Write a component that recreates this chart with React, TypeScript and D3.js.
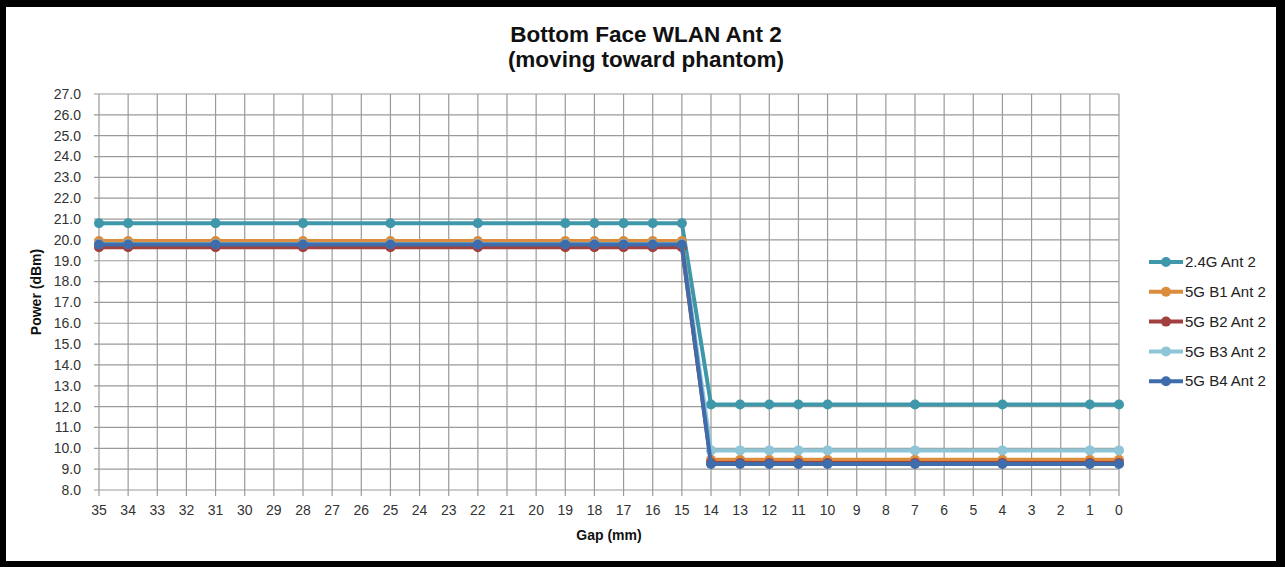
import React from "react";
import * as d3 from "d3";

const gapTicks = d3.range(35, -1, -1);
const gaps = [35, 34, 31, 28, 25, 22, 19, 18, 17, 16, 15, 14, 13, 12, 11, 10, 7, 4, 1, 0];
const yTicks = d3.range(8, 27.5, 1);

const ant24 = [20.8, 20.8, 20.8, 20.8, 20.8, 20.8, 20.8, 20.8, 20.8, 20.8, 20.8, 12.1, 12.1, 12.1, 12.1, 12.1, 12.1, 12.1, 12.1, 12.1];
const b1 = [19.95, 19.95, 19.95, 19.95, 19.95, 19.95, 19.95, 19.95, 19.95, 19.95, 19.95, 9.45, 9.45, 9.45, 9.45, 9.45, 9.45, 9.45, 9.45, 9.45];
const b2 = [19.65, 19.65, 19.65, 19.65, 19.65, 19.65, 19.65, 19.65, 19.65, 19.65, 19.65, 9.3, 9.3, 9.3, 9.3, 9.3, 9.3, 9.3, 9.3, 9.3];
const b3 = [19.8, 19.8, 19.8, 19.8, 19.8, 19.8, 19.8, 19.8, 19.8, 19.8, 19.8, 9.9, 9.9, 9.9, 9.9, 9.9, 9.9, 9.9, 9.9, 9.9];
const b4 = [19.78, 19.78, 19.78, 19.78, 19.78, 19.78, 19.78, 19.78, 19.78, 19.78, 19.78, 9.25, 9.25, 9.25, 9.25, 9.25, 9.25, 9.25, 9.25, 9.25];

const seriesNames = ["2.4G Ant 2", "5G B1 Ant 2", "5G B2 Ant 2", "5G B3 Ant 2", "5G B4 Ant 2"];
const seriesValues = [ant24, b1, b2, b3, b4];
const seriesColors = ["#3f97aa", "#db8d3d", "#a2403f", "#8ec6d8", "#3f6cab"];

const App = () => {
  const ref = React.useRef<SVGSVGElement>(null);

  React.useEffect(() => {
    const svg = d3.select(ref.current);
    svg.selectAll("*").remove();

    const W = 1285, H = 567;
    const margin = { top: 94, left: 99, right: 166, bottom: 77 };
    const width = W - margin.left - margin.right;
    const height = H - margin.top - margin.bottom;

    svg.append("rect").attr("x", 0).attr("y", 0).attr("width", W).attr("height", H).attr("fill", "#000");
    svg.append("rect").attr("x", 6).attr("y", 7).attr("width", 1270).attr("height", 554).attr("fill", "#fff");

    const x = d3.scalePoint<number>().domain(gapTicks).range([0, width]);
    const y = d3.scaleLinear().domain([8, 27]).range([height, 0]);

    const g = svg.append("g").attr("transform", `translate(${margin.left},${margin.top})`);

    // grid
    g.selectAll(".hgrid").data(yTicks).enter().append("line")
      .attr("x1", -5).attr("x2", width)
      .attr("y1", d => y(d)).attr("y2", d => y(d))
      .attr("stroke", "#9a9a9a").attr("stroke-width", 1.2);
    g.selectAll(".vgrid").data(gapTicks).enter().append("line")
      .attr("x1", d => x(d)!).attr("x2", d => x(d)!)
      .attr("y1", 0).attr("y2", height + 6)
      .attr("stroke", "#9a9a9a").attr("stroke-width", 1.2);

    const font = "'Liberation Sans', Arial, sans-serif";

    g.selectAll(".ylab").data(yTicks).enter().append("text")
      .attr("x", -18).attr("y", d => y(d)).attr("dy", "0.35em")
      .attr("text-anchor", "end").attr("font-family", font).attr("font-size", 14)
      .attr("fill", "#333").text(d => d.toFixed(1));
    g.selectAll(".xlab").data(gapTicks).enter().append("text")
      .attr("x", d => x(d)!).attr("y", height + 25)
      .attr("text-anchor", "middle").attr("font-family", font).attr("font-size", 14)
      .attr("fill", "#333").text(d => d);

    const line = d3.line<number>().x((_, i) => x(gaps[i])!).y(d => y(d));

    seriesValues.forEach((vals, si) => {
      g.append("path").datum(vals).attr("d", line)
        .attr("fill", "none").attr("stroke", seriesColors[si]).attr("stroke-width", 4);
      g.selectAll(`.pt${si}`).data(vals).enter().append("circle")
        .attr("cx", (_, i) => x(gaps[i])!).attr("cy", d => y(d))
        .attr("r", 5).attr("fill", seriesColors[si]);
    });

    // titles
    svg.append("text").attr("x", 646).attr("y", 42).attr("text-anchor", "middle")
      .attr("font-family", font).attr("font-weight", "bold").attr("font-size", 22.5)
      .attr("fill", "#111").text("Bottom Face WLAN Ant 2");
    svg.append("text").attr("x", 646).attr("y", 67).attr("text-anchor", "middle")
      .attr("font-family", font).attr("font-weight", "bold").attr("font-size", 22.5)
      .attr("fill", "#111").text("(moving toward phantom)");

    svg.append("text").attr("transform", `translate(41,${margin.top + height / 2}) rotate(-90)`)
      .attr("text-anchor", "middle").attr("font-family", font).attr("font-weight", "bold")
      .attr("font-size", 14).attr("fill", "#111").text("Power (dBm)");
    svg.append("text").attr("x", margin.left + width / 2).attr("y", 540)
      .attr("text-anchor", "middle").attr("font-family", font).attr("font-weight", "bold")
      .attr("font-size", 14).attr("fill", "#111").text("Gap (mm)");

    // legend
    const lg = svg.append("g").attr("transform", "translate(1149,262)");
    seriesNames.forEach((name, i) => {
      const row = lg.append("g").attr("transform", `translate(0,${i * 29.8})`);
      row.append("line").attr("x1", 0).attr("x2", 34).attr("stroke", seriesColors[i]).attr("stroke-width", 4);
      row.append("circle").attr("cx", 17).attr("r", 5).attr("fill", seriesColors[i]);
      row.append("text").attr("x", 36).attr("dy", "0.35em").attr("font-family", font)
        .attr("font-size", 15).attr("fill", "#222").text(name);
    });
  }, []);

  return (
    <svg ref={ref} width={1285} height={567}
      style={{ position: "absolute", left: 0, top: 0, display: "block" }} />
  );
};

export default App;
